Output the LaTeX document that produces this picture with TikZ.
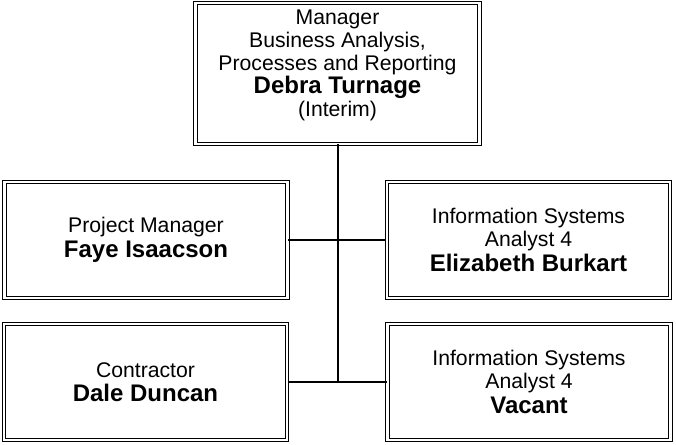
\documentclass[tikz,border=0pt]{standalone}
\usepackage{fontspec}
\setmainfont{Liberation Sans}
\usetikzlibrary{positioning}
\tikzset{post/.style={draw=black,double,line width=1.1pt,double distance=2.2pt,
    align=center,inner sep=0pt,minimum width=283pt,minimum height=116pt,
    font=\fontsize{21.2}{23}\selectfont}}
\tikzset{link/.style={line width=1.5pt}}
\newcommand{\Who}[1]{{\fontsize{24}{26}\selectfont\bfseries #1}}

\begin{document}
\begin{tikzpicture}[x=1pt,y=1pt]
\useasboundingbox (0,0) rectangle (676,444);
% top of the chart
\node (mgr) [post,minimum width=284pt,minimum height=141pt] at (337.5,370.75)
  {Manager\\Business Analysis,\\Processes and Reporting\\\Who{Debra Turnage}\\(Interim)\\[-3pt]\mbox{}};
% first row
\node (pm) [post] at (146,204) {Project Manager\\[2pt]\Who{Faye Isaacson}};
\node (isa) [post] at (528.5,204) {Information Systems\\Analyst 4\\[2pt]\Who{Elizabeth Burkart}};
% second row
\node (con) [post] at (145.5,62) {Contractor\\[1pt]\Who{Dale Duncan}};
\node (isb) [post] at (529,62) {Information Systems\\Analyst 4\\[2pt]\Who{Vacant}};
%
\coordinate (jb) at (mgr.south |- con.east);
\draw[link,line width=2pt] (mgr.south) -- (jb);
\draw[link] (pm.east) -- (isa.west);
\draw[link] (con.east) -- (isb.west);
\end{tikzpicture}
\end{document}
